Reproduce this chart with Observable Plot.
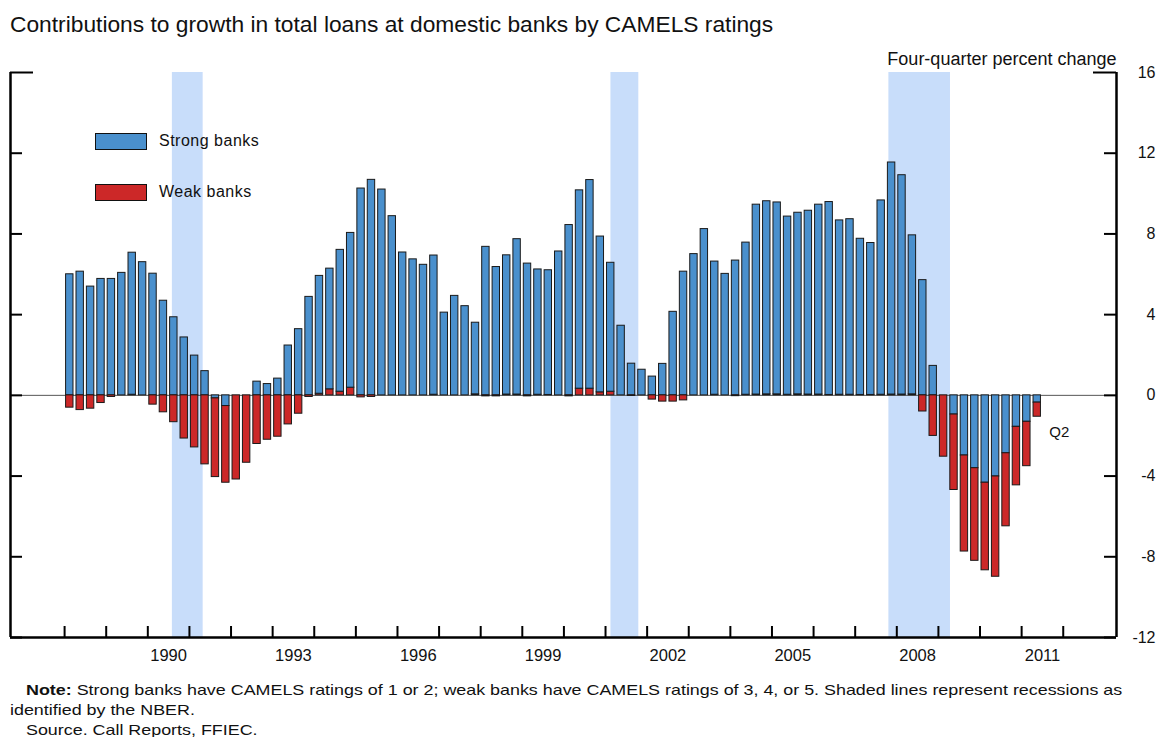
<!DOCTYPE html>
<html>
<head>
<meta charset="utf-8">
<script src="https://cdn.jsdelivr.net/npm/d3@7"></script>
<script src="https://cdn.jsdelivr.net/npm/@observablehq/plot@0.6"></script>
<style>
  body { margin: 0; background: #fff; font-family: "Liberation Sans", Arial, sans-serif; color: #111; }
  #wrap { position: relative; width: 1159px; }
  #title { height: 26px; padding: 14px 0 0 10px; font-size: 22px; line-height: 21px; white-space: nowrap; }
  #title span { display: inline-block; transform: scaleX(1.035); transform-origin: left; }
  #note { padding: 13px 0 0 10px; font-size: 15px; line-height: 20px; white-space: nowrap; }
  #note div { transform: scaleX(1.192); transform-origin: left; width: max-content; }
  #note .ind { margin-left: 16px; }
  .legend { position: absolute; left: 95px; font-size: 16px; }
  .legend span.sw { position: absolute; left: 0; top: 0; width: 50px; height: 15px; border: 1.5px solid #111; }
  .legend span.lb { position: absolute; left: 64px; top: -1px; line-height: 18px; white-space: nowrap; letter-spacing: 0.5px; }
</style>
</head>
<body>
<div id="wrap">
  <div id="title"><span>Contributions to growth in total loans at domestic banks by CAMELS ratings</span></div>
  <div id="chart"></div>
  <div id="note">
    <div class="ind"><b>Note:</b> Strong banks have CAMELS ratings of 1 or 2; weak banks have CAMELS ratings of 3, 4, or 5. Shaded lines represent recessions as</div>
    <div>identified by the NBER.</div>
    <div class="ind">Source. Call Reports, FFIEC.</div>
  </div>
  <div class="legend" style="top:133px"><span class="sw" style="background:#4a90cd"></span><span class="lb">Strong banks</span></div>
  <div class="legend" style="top:184px"><span class="sw" style="background:#cc2828"></span><span class="lb">Weak banks</span></div>
</div>
<script>
// quarterly data, 1988:Q1 to 2011:Q2
const firstYear = 1988;

// contribution of strong banks (CAMELS 1 or 2), percentage points
const strong = [
  6.0, 6.13, 5.39, 5.77,   5.77, 6.07, 7.04, 6.6,
  6.03, 4.69, 3.87, 2.87,  1.97, 1.2, -0.15, -0.53,
  0, 0, 0.68, 0.56,        0.83, 2.47, 3.28, 4.88,
  5.84, 5.98, 7.03, 7.67,  10.25, 10.68, 10.2, 8.88,
  7.08, 6.74, 6.47, 6.9,   4.1, 4.93, 4.42, 3.55,
  7.36, 6.36, 6.9, 7.7,    6.53, 6.21, 6.18, 7.13,
  8.44, 9.83, 10.34, 7.72, 6.39, 3.45, 1.57, 1.27,
  0.93, 1.56, 4.14, 6.13,  7.0, 8.24, 6.6, 6.02,
  6.68, 7.54, 9.41, 9.57,  9.51, 8.83, 9.0, 9.11,
  9.41, 9.56, 8.64, 8.7,   7.74, 7.53, 9.63, 11.5,
  10.87, 7.88, 5.71, 1.46, 0, -0.95, -2.98, -3.61,
  -4.33, -4.02, -2.87, -1.56, -1.31, -0.36
];

// contribution of weak banks (CAMELS 3, 4 or 5)
const weak = [
  -0.61, -0.73, -0.66, -0.38, -0.08, 0, 0.03, 0,
  -0.46, -0.84, -1.33, -2.14, -2.58, -3.42, -3.9, -3.8,
  -4.17, -3.34, -2.41, -2.2,  -2.05, -1.44, -0.91, -0.08,
  0.08, 0.3, 0.18, 0.38,      -0.1, -0.08, 0, 0,
  0, 0, 0, 0.03,              0, 0, 0, 0.05,
  -0.05, -0.05, 0.04, 0.04,   -0.05, 0.03, 0.02, 0,
  -0.05, 0.33, 0.33, 0.15,    0.18, 0, -0.03, 0,
  -0.21, -0.31, -0.31, -0.25, 0, 0, 0.03, 0,
  -0.04, 0.03, 0.04, 0.05,    0.05, 0.03, 0.05, 0.04,
  0.04, 0.02, 0.03, 0.03,     0.02, 0.02, 0.03, 0.04,
  0.04, 0.05, -0.8, -2.01,    -3.04, -3.74, -4.76, -4.59,
  -4.34, -4.97, -3.62, -2.9,  -2.2, -0.7
];

// NBER recessions (start, end as fractional years)
const recStart = [1990.59, 2001.13, 2007.81];
const recEnd = [1991.33, 2001.80, 2009.29];

const yTicks = [-12, -8, -4, 0, 4, 8, 12, 16];
const labelYears = [1990, 1993, 1996, 1999, 2002, 2005, 2008, 2011];
const tickYears = d3.range(1988, 2013);

const blue = "#4a90cd", red = "#cc2828";
const xDomain = [1986.7, 2013.28];
const W = 1159, mL = 10, mR = 43, mT = 32, mB = 30, H = 627;
const frameW = W - mL - mR, frameH = H - mT - mB;

// stack: positive side has weak at the base, negative side has strong at the base
const segs = [];
strong.forEach((s, i) => {
  const w = weak[i];
  const x1 = firstYear + i / 4, x2 = firstYear + (i + 1) / 4;
  let pos = 0, neg = 0;
  if (w > 0) { segs.push({x1, x2, y1: 0, y2: w, bank: "Weak banks"}); pos = w; }
  if (s > 0) { segs.push({x1, x2, y1: pos, y2: pos + s, bank: "Strong banks"}); }
  if (s < 0) { segs.push({x1, x2, y1: 0, y2: s, bank: "Strong banks"}); neg = s; }
  if (w < 0) { segs.push({x1, x2, y1: neg, y2: neg + w, bank: "Weak banks"}); }
});

const recessions = recStart.map((s, i) => ({start: s, end: recEnd[i]}));
const n = strong.length;
const last = {x: firstYear + (n - 0.5) / 4, y: Math.min(0, strong[n - 1]) + Math.min(0, weak[n - 1])};

const plot = Plot.plot({
  width: W,
  height: H,
  marginTop: mT,
  marginBottom: mB,
  marginLeft: mL,
  marginRight: mR,
  style: {fontFamily: "'Liberation Sans', Arial, sans-serif", fontSize: "16px", color: "#111", overflow: "visible"},
  x: {domain: xDomain, axis: null},
  y: {domain: [-12, 16], axis: null},
  color: {domain: ["Strong banks", "Weak banks"], range: [blue, red]},
  marks: [
    Plot.rect(recessions, {x1: "start", x2: "end", fill: "#c8ddfa"}),
    Plot.ruleY([0], {stroke: "#555", strokeWidth: 1}),
    Plot.rect(segs, {x1: "x1", x2: "x2", y1: "y1", y2: "y2", fill: "bank",
      stroke: "#1a1a1a", strokeWidth: 1, insetLeft: 1.5, insetRight: 1.5}),
    // frame: left, right, bottom
    Plot.ruleX(xDomain, {stroke: "#000", strokeWidth: 2.5}),
    Plot.ruleY([-12], {stroke: "#000", strokeWidth: 2.5}),
    // inward ticks
    Plot.tickY(yTicks.filter(d => d < 16), {y: d => d, insetRight: frameW - 12, stroke: "#000", strokeWidth: 2}),
    Plot.tickY(yTicks.filter(d => d < 16), {y: d => d, insetLeft: frameW - 12, stroke: "#000", strokeWidth: 2}),
    Plot.tickY([16], {y: d => d, insetRight: frameW - 23, stroke: "#000", strokeWidth: 2}),
    Plot.tickY([16], {y: d => d, insetLeft: frameW - 23, stroke: "#000", strokeWidth: 2}),
    Plot.tickX(tickYears, {x: d => d, insetTop: frameH - 11, stroke: "#000", strokeWidth: 2}),
    // labels
    Plot.text(labelYears, {x: d => d + 0.5, frameAnchor: "bottom", dy: 23, text: d => String(d), fontSize: 16.5, fill: "#111"}),
    Plot.text(yTicks, {y: d => d, frameAnchor: "right", dx: 39, textAnchor: "end", text: d => String(d), fontSize: 16, fill: "#111"}),
    Plot.text(["Four-quarter percent change"], {frameAnchor: "top-right", dy: -20, textAnchor: "end", text: d => d, fontSize: 18, fill: "#111"}),
    Plot.text([last], {x: "x", y: "y", dx: 22, dy: 15, text: () => "Q2", fontSize: 15, fill: "#111"})
  ]
});

document.getElementById("chart").appendChild(plot);
</script>
</body>
</html>
